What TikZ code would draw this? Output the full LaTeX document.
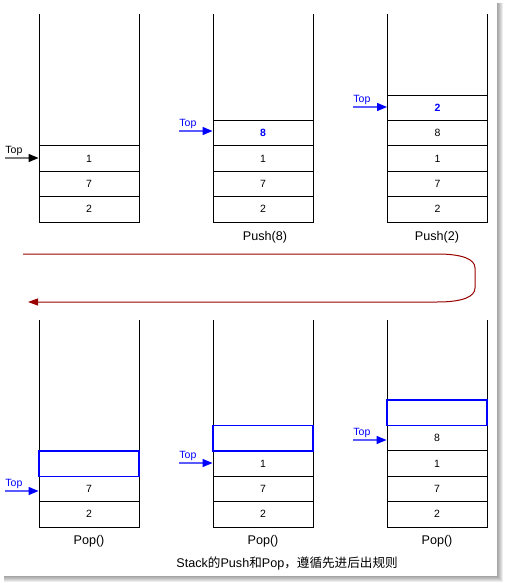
\documentclass[tikz,border=0pt]{standalone}
\usepackage{fontspec}
\setmainfont{Liberation Sans}
\newfontfamily\cjk{Noto Sans CJK SC}
\usetikzlibrary{arrows.meta}
\definecolor{stkBlue}{HTML}{0000FF}
\definecolor{stkShaft}{HTML}{5A5AFF}
\definecolor{stkRed}{HTML}{990000}
\definecolor{stkGray}{HTML}{7A7A7A}

\begin{document}
\begin{tikzpicture}[
    x=1pt, y=-1pt,
    line width=0.9pt,
    every node/.style={font=\fontsize{10.5}{12}\selectfont, inner sep=0pt},
    cell/.style={draw=black, line width=0.9pt, minimum width=100pt, minimum height=25.4pt},
    emptycell/.style={draw=stkBlue, line width=1.4pt, minimum width=100pt, minimum height=25.4pt},
    newval/.style={text=stkBlue, font=\fontsize{10.5}{12}\selectfont\bfseries},
    toplbl/.style={text=stkBlue, anchor=south west},
    toparrow/.style={draw=stkShaft, line width=1.3pt,
        -{Triangle[length=10pt,width=8pt,color=stkBlue]}},
    oplbl/.style={font=\fontsize{12.6}{14}\selectfont},
]
\useasboundingbox (0,0) rectangle (504,583);

% ----------------------------------------------------------------------
% Page with drop shadow (right and bottom)
% ----------------------------------------------------------------------
\foreach \d in {0,...,6}
    \fill[black, opacity=0.07] (4,3) rectangle (497+\d,576+\d);
\fill[white] (0,0) rectangle (497,576);

% ----------------------------------------------------------------------
% Stack walls (open at the top)
% ----------------------------------------------------------------------
\foreach \x/\yt/\yb in {39/14/222, 213/14/222, 387.5/14/222,
                        39/320/527, 213/320/527, 387/320/527}
    \draw (\x,\yt) -- (\x,\yb) -- (\x+100,\yb) -- (\x+100,\yt);

% ----------------------------------------------------------------------
% Row 1: 2,7,1  ->  Push(8)  ->  Push(2)
% ----------------------------------------------------------------------
\foreach \v [count=\i] in {2,7,1}
    \node[cell] (a\i) at (89,{209.3-25.4*(\i-1)}) {\v};

\foreach \v [count=\i] in {2,7,1}
    \node[cell] (b\i) at (263,{209.3-25.4*(\i-1)}) {\v};
\node[cell, newval] (b4) at (263,133.1) {8};

\foreach \v [count=\i] in {2,7,1,8}
    \node[cell] (c\i) at (437.5,{209.3-25.4*(\i-1)}) {\v};
\node[cell, newval] (c5) at (437.5,107.7) {2};

\node[oplbl] (opb) at (265,237) {Push(8)};
\node[oplbl] (opc) at (437,237) {Push(2)};

% Top pointers
\coordinate (ta) at (5,158);
\node[toplbl, text=black] (tla) at (5,156) {Top};
\draw[draw=stkGray, line width=1.3pt,
      -{Triangle[length=10pt,width=8pt,color=black]}] (ta) -- (ta -| a3.west);

\coordinate (tb) at (179,131);
\node[toplbl] (tlb) at (179,129) {Top};
\draw[toparrow] (tb) -- (tb -| b4.west);

\coordinate (tc) at (353,107);
\node[toplbl] (tlc) at (353,105) {Top};
\draw[toparrow] (tc) -- (tc -| c5.west);

% ----------------------------------------------------------------------
% Turn-back arrow between the rows
% ----------------------------------------------------------------------
\coordinate (turnS) at (23,254);
\coordinate (turnE) at (28,302);
\draw[stkRed, line width=1pt, -{Triangle[length=10pt,width=7pt]}]
    (turnS) -- (437,254)
    .. controls (462,254) and (475,259) .. (475,268) -- (475,288)
    .. controls (475,297) and (462,302) .. (437,302) -- (turnE);

% ----------------------------------------------------------------------
% Row 2: three Pop() steps
% ----------------------------------------------------------------------
\foreach \v [count=\i] in {2,7}
    \node[cell] (d\i) at (89,{514.3-25.4*(\i-1)}) {\v};
\node[emptycell] (d3) at (89,463.5) {};

\foreach \v [count=\i] in {2,7,1}
    \node[cell] (e\i) at (263,{514.3-25.4*(\i-1)}) {\v};
\node[emptycell] (e4) at (263,438.1) {};

\foreach \v [count=\i] in {2,7,1,8}
    \node[cell] (f\i) at (437,{514.3-25.4*(\i-1)}) {\v};
\node[emptycell] (f5) at (437,412.7) {};

\foreach \n/\x in {opd/89, ope/263, opf/437}
    \node[oplbl] (\n) at (\x,541) {Pop()};

% Top pointers
\coordinate (td) at (5,491);
\node[toplbl] (tld) at (5,489) {Top};
\draw[toparrow] (td) -- (td -| d2.west);

\coordinate (te) at (179,463);
\node[toplbl] (tle) at (179,461) {Top};
\draw[toparrow] (te) -- (te -| e3.west);

\coordinate (tf) at (353,440);
\node[toplbl] (tlf) at (353,438) {Top};
\draw[toparrow] (tf) -- (tf -| f4.west);

% Caption
\node[oplbl, anchor=west] (cap) at (176,563)
    {Stack{\cjk 的}Push{\cjk 和}Pop{\cjk ，遵循先进后出规则}};

\end{tikzpicture}
\end{document}
